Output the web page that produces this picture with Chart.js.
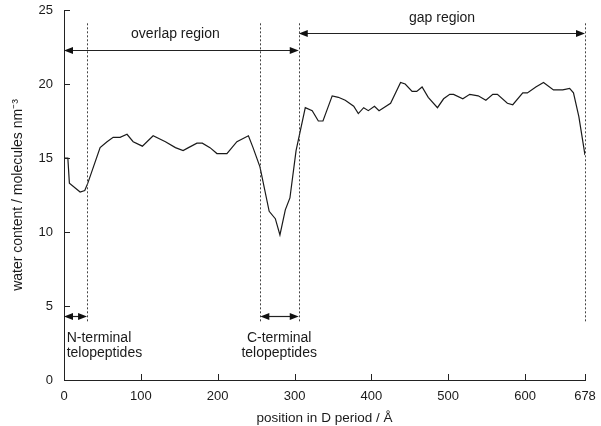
<!DOCTYPE html>
<html>
<head>
<meta charset="utf-8">
<script src="https://cdn.jsdelivr.net/npm/chart.js@4/dist/chart.umd.min.js"></script>
<style>
  html, body { margin: 0; padding: 0; background: #fff; }
  #wrap { width: 601px; height: 426px; position: relative; }
</style>
</head>
<body>
<div id="wrap"><canvas id="chart"></canvas></div>
<script>
// position along the D period (Å) and water content (molecules nm^-3)
const positions = [0, 5, 7, 21, 27, 31, 47, 56, 64, 73, 82, 90, 102, 116, 132, 145, 155, 162,
  173, 180, 190, 199, 212, 225, 240, 246, 255, 267, 275, 281, 288, 294, 302, 314, 323, 331,
  337, 349, 357, 366, 377, 383, 390, 396, 404, 410, 425, 438, 444, 453, 459, 466, 474, 486,
  494, 502, 507, 519, 528, 539, 549, 558, 564, 577, 584, 597, 603, 614, 624, 637, 649, 658,
  663, 670, 678]
const waterContent = [15.0, 15.0, 13.3, 12.7, 12.8, 13.3, 15.7, 16.1, 16.4, 16.4, 16.6, 16.1,
  15.8, 16.5, 16.1, 15.7, 15.5, 15.7, 16.0, 16.0, 15.7, 15.3, 15.3, 16.1, 16.5, 15.7, 14.4,
  11.4, 10.9, 9.8, 11.5, 12.3, 15.5, 18.4, 18.2, 17.5, 17.5, 19.2, 19.1, 18.9, 18.5, 18.0,
  18.4, 18.2, 18.5, 18.2, 18.7, 20.1, 20.0, 19.5, 19.5, 19.8, 19.1, 18.4, 19.0, 19.3, 19.3,
  19.0, 19.3, 19.2, 18.9, 19.3, 19.3, 18.7, 18.6, 19.4, 19.4, 19.8, 20.1, 19.6, 19.6, 19.7,
  19.4, 17.8, 15.2]

const xTicks = [0, 100, 200, 300, 400, 500, 600, 678]
const yTicks = [0, 5, 10, 15, 20, 25]

// region boundaries (Å) marked by dotted lines
const boundaries = [30, 255.5, 305.5, 678]
const boundarySpan = [3.85, 24.1]

// double-headed arrows: [from, to, level]
const spans = [
  [0, 305.5, 22.3],    // overlap region
  [305.5, 678, 23.45], // gap region
  [0, 30, 4.3],        // N-terminal telopeptides
  [255.5, 305.5, 4.3], // C-terminal telopeptides
]

// labels: [text lines, x, y of first baseline, align]
const notes = [
  [['overlap region'], 145, 23.1, 'center'],
  [['gap region'], 492, 24.2, 'center'],
  [['N-terminal', 'telopeptides'], 3.5, 2.57, 'left'],
  [['C-terminal', 'telopeptides'], 280, 2.57, 'center'],
]

const FONT = '"Liberation Sans", Arial, sans-serif'
Chart.defaults.font.family = FONT
Chart.defaults.color = '#1a1a1a'

const annotations = {
  id: 'annotations',
  afterDraw(chart) {
    const { ctx, chartArea } = chart
    const x = chart.scales.x
    const y = chart.scales.y
    ctx.save()

    // inward tick marks
    ctx.strokeStyle = '#222'
    ctx.lineWidth = 1
    ctx.beginPath()
    xTicks.forEach(v => {
      const px = Math.round(x.getPixelForValue(v)) + 0.5
      ctx.moveTo(px, chartArea.bottom)
      ctx.lineTo(px, chartArea.bottom - 6)
    })
    yTicks.forEach(v => {
      const py = Math.round(y.getPixelForValue(v)) + 0.5
      ctx.moveTo(chartArea.left, py)
      ctx.lineTo(chartArea.left + 6, py)
    })
    ctx.stroke()

    // dotted boundaries
    ctx.strokeStyle = '#444'
    ctx.setLineDash([2, 2])
    ctx.beginPath()
    boundaries.forEach(v => {
      const px = Math.round(x.getPixelForValue(v)) + 0.5
      ctx.moveTo(px, y.getPixelForValue(boundarySpan[1]))
      ctx.lineTo(px, y.getPixelForValue(boundarySpan[0]))
    })
    ctx.stroke()
    ctx.setLineDash([])

    // arrows
    const head = (tipX, py, dir) => {
      ctx.beginPath()
      ctx.moveTo(tipX, py)
      ctx.lineTo(tipX - dir * 9, py - 3.5)
      ctx.lineTo(tipX - dir * 9, py + 3.5)
      ctx.closePath()
      ctx.fill()
    }
    ctx.strokeStyle = '#222'
    ctx.fillStyle = '#111'
    ctx.lineWidth = 1.2
    spans.forEach(([a, b, lvl]) => {
      const x1 = x.getPixelForValue(a)
      const x2 = x.getPixelForValue(b)
      const py = Math.round(y.getPixelForValue(lvl)) + 0.5
      ctx.beginPath()
      ctx.moveTo(x1 + 4, py)
      ctx.lineTo(x2 - 4, py)
      ctx.stroke()
      head(x1, py, -1)
      head(x2, py, 1)
    })

    // text
    ctx.font = '14px ' + FONT
    ctx.fillStyle = '#1a1a1a'
    ctx.textBaseline = 'alphabetic'
    notes.forEach(([lines, vx, vy, align]) => {
      ctx.textAlign = align
      const px = x.getPixelForValue(vx)
      const py = y.getPixelForValue(vy)
      lines.forEach((t, i) => ctx.fillText(t, px, py + i * 15))
    })
    ctx.restore()
  },
}

new Chart(document.getElementById('chart'), {
  type: 'line',
  data: {
    datasets: [{
      data: positions.map((p, i) => ({ x: p, y: waterContent[i] })),
      borderColor: '#1a1a1a',
      borderWidth: 1.2,
      pointRadius: 0,
      tension: 0,
      fill: false,
    }],
  },
  options: {
    responsive: true,
    maintainAspectRatio: false,
    animation: false,
    layout: { padding: { top: 10, right: 16, left: 0, bottom: 0 } },
    plugins: { legend: { display: false }, tooltip: { enabled: false } },
    scales: {
      x: {
        type: 'linear',
        min: 0,
        max: 678,
        afterBuildTicks: s => { s.ticks = xTicks.map(v => ({ value: v })) },
        afterFit: s => { s.height = 46; s.paddingRight = 0; s.paddingLeft = 0 },
        grid: { display: false, drawTicks: false },
        border: { display: true, color: '#222', width: 1 },
        ticks: { font: { size: 13 }, padding: 9, maxRotation: 0, autoSkip: false },
        title: {
          display: true,
          text: 'position in D period / Å',
          font: { size: 13.5 },
          padding: { top: 8, bottom: 0 },
        },
      },
      y: {
        min: 0,
        max: 25,
        afterBuildTicks: s => { s.ticks = yTicks.map(v => ({ value: v })) },
        afterFit: s => { s.width = 64; s.paddingTop = 0; s.paddingBottom = 0 },
        grid: { display: false, drawTicks: false },
        border: { display: true, color: '#222', width: 1 },
        ticks: { font: { size: 13 }, padding: 11 },
        title: {
          display: true,
          text: 'water content / molecules nm⁻³',
          font: { size: 14 },
          padding: { top: 10, bottom: 0 },
        },
      },
    },
  },
  plugins: [annotations],
})
</script>
</body>
</html>
